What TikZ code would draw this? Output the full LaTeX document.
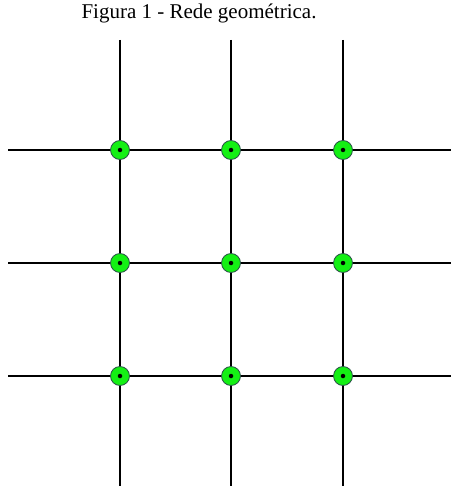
\documentclass[tikz,border=0pt]{standalone}
\usepackage{fontspec}
\setmainfont{Liberation Serif}
\usepackage{xcolor}
\definecolor{nodegreen}{RGB}{20,240,20}
\definecolor{nodeedge}{RGB}{40,80,70}

\begin{document}
\begin{tikzpicture}[x=1pt,y=-1pt,
	rede/.style={line width=2pt, black},
	no/.style={draw=nodeedge, fill=nodegreen, circle, line width=0.8pt, minimum size=19pt, inner sep=0pt},
	pto/.style={fill=black, circle, minimum size=4.5pt, inner sep=0pt}]
			\useasboundingbox (0,0) rectangle (451,486);
			\node[anchor=base, inner sep=0pt] (titulo) at (199,19) {\fontsize{21}{24}\selectfont Figura 1 - Rede geométrica.};

			\coordinate (t1) at (120,40);	\coordinate (b1) at (120,486);
			\coordinate (t2) at (231,40);	\coordinate (b2) at (231,486);
			\coordinate (t3) at (343,40);	\coordinate (b3) at (343,486);
			\coordinate (l1) at (8,150);	\coordinate (r1) at (451,150);
			\coordinate (l2) at (8,263);	\coordinate (r2) at (451,263);
			\coordinate (l3) at (8,376);	\coordinate (r3) at (451,376);

			\draw[rede] (t1) -- (b1);
			\draw[rede] (t2) -- (b2);
			\draw[rede] (t3) -- (b3);
			\draw[rede] (l1) -- (r1);
			\draw[rede] (l2) -- (r2);
			\draw[rede] (l3) -- (r3);

			\foreach \x/\i in {120/1,231/2,343/3}
				\foreach \y/\j in {150/1,263/2,376/3} {
					\node[no] (n\j\i) at (\x,\y) {};
					\node[pto] (p\j\i) at (n\j\i) {};
				}
		\end{tikzpicture}
\end{document}
